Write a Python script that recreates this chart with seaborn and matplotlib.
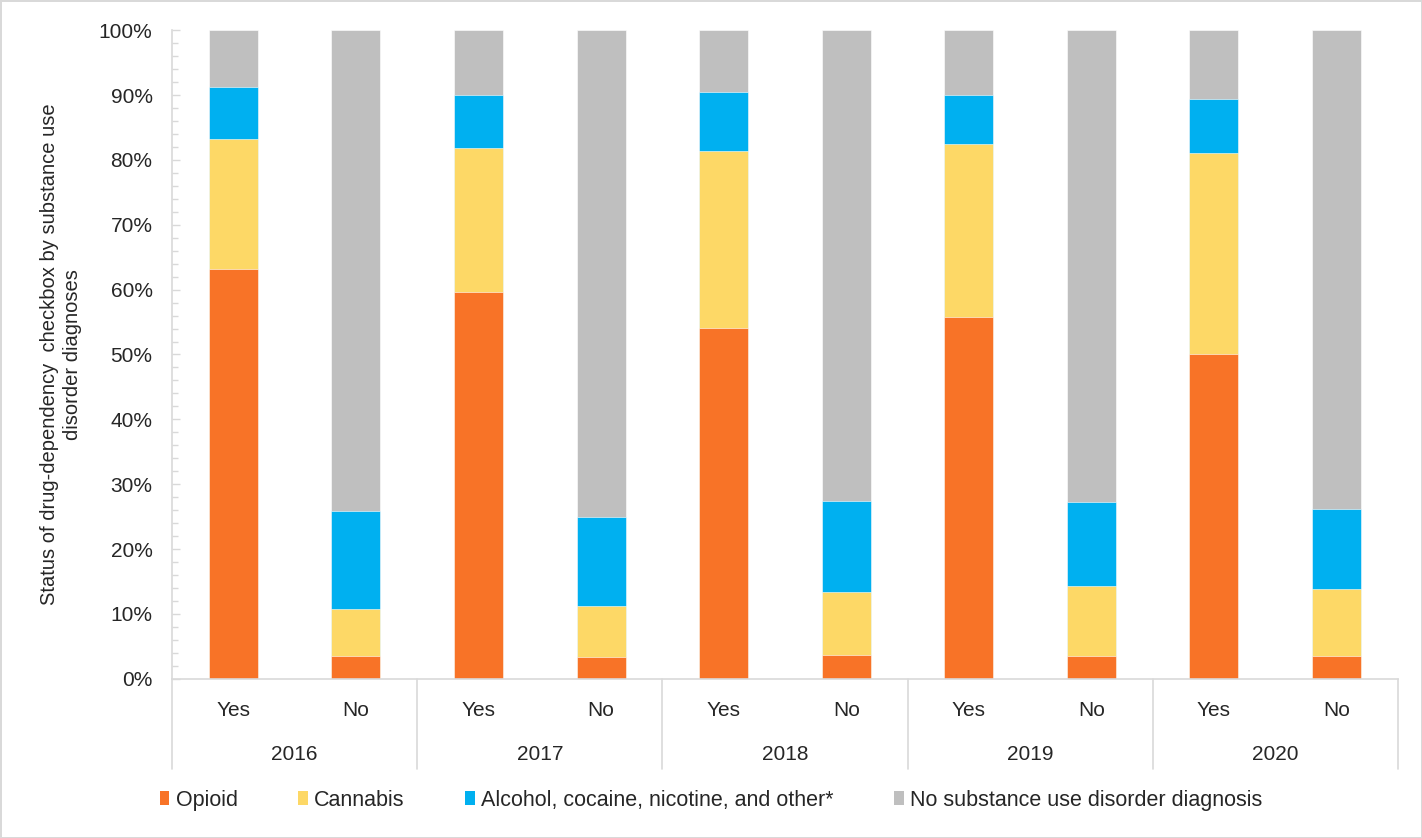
import matplotlib
matplotlib.use("Agg")
import matplotlib.pyplot as plt
import matplotlib.transforms as mtransforms
from matplotlib.patches import Patch
from matplotlib.ticker import MultipleLocator, PercentFormatter
import numpy as np
import pandas as pd
import seaborn as sns

years = ["2016", "2017", "2018", "2019", "2020"]
answers = ["Yes", "No"]

# segment heights (%), per year
opioid_yes = [63.2, 59.7, 54.1, 55.8, 50.1]
cannabis_yes = [20.0, 22.1, 27.2, 26.7, 31.0]
alcohol_yes = [8.0, 8.2, 9.2, 7.5, 8.3]

opioid_no = [3.5, 3.4, 3.7, 3.5, 3.5]
cannabis_no = [7.2, 7.8, 9.7, 10.8, 10.4]
alcohol_no = [15.1, 13.8, 14.0, 13.0, 12.3]

series_names = ["Opioid", "Cannabis", "Alcohol, cocaine, nicotine, and other*",
                "No substance use disorder diagnosis"]
colors = ["#F87327", "#FDD866", "#00B0F0", "#BFBFBF"]

# build the table: one row per bar
rows = []
for i, yr in enumerate(years):
    for ans, op, ca, al in [("Yes", opioid_yes[i], cannabis_yes[i], alcohol_yes[i]),
                            ("No", opioid_no[i], cannabis_no[i], alcohol_no[i])]:
        rows.append({"bar": f"{yr} {ans}", "year": yr, "answer": ans,
                     "Opioid": op, "Cannabis": ca, "Alcohol": al,
                     "None": 100 - op - ca - al})
df = pd.DataFrame(rows)
df["c1"] = df["Opioid"]
df["c2"] = df["c1"] + df["Cannabis"]
df["c3"] = df["c2"] + df["Alcohol"]
df["c4"] = df["c3"] + df["None"]

sns.set_style("white")
plt.rcParams["font.family"] = ["Liberation Sans", "DejaVu Sans"]

fig = plt.figure(figsize=(14.22, 8.38), dpi=100)
ax = fig.add_axes([0.121, 0.190, 0.862, 0.774])

order = list(df["bar"])
# draw stacked bars from the top cumulative down
for col, c in zip(["c4", "c3", "c2", "c1"], colors[::-1]):
    sns.barplot(data=df, x="bar", y=col, order=order, color=c, width=0.4,
                edgecolor="white", linewidth=0.4, saturation=1, ax=ax)

ax.set_xlim(-0.5, 9.5)
ax.set_ylim(0, 100)
ax.yaxis.set_major_locator(MultipleLocator(10))
ax.yaxis.set_minor_locator(MultipleLocator(2))
ax.yaxis.set_major_formatter(PercentFormatter(decimals=0))
ax.tick_params(axis="y", which="major", direction="in", length=6, width=1,
               color="#d9d9d9", labelsize=15, pad=14, left=True)
ax.tick_params(axis="y", which="minor", direction="in", length=4, width=1,
               color="#d9d9d9", left=True)
ax.set_xticks(range(len(order)))
ax.set_xticklabels(list(df["answer"]))
ax.tick_params(axis="x", length=0, labelsize=15, pad=16)

for s in ["top", "right"]:
    ax.spines[s].set_visible(False)
for s in ["left", "bottom"]:
    ax.spines[s].set_color("#d9d9d9")
    ax.spines[s].set_linewidth(1.2)

ax.set_xlabel("")
ax.set_ylabel("Status of drug-dependency  checkbox by substance use\ndisorder diagnoses",
              fontsize=14.5, labelpad=12, linespacing=1.3)

# group separators and year labels
trans = mtransforms.blended_transform_factory(ax.transData, ax.transAxes)
for b in np.arange(-0.5, 10, 2):
    ax.plot([b, b], [0, -0.139], transform=trans, color="#d9d9d9", lw=1.2, clip_on=False)
for i, yr in enumerate(years):
    ax.text(2 * i + 0.5, -0.117, yr, transform=trans, ha="center", va="center", fontsize=15)

handles = [Patch(facecolor=c, edgecolor="none") for c in colors]
fig.legend(handles, series_names, loc="center", bbox_to_anchor=(0.5, 0.045), ncol=4,
           frameon=False, fontsize=15.5, handlelength=0.45, handleheight=0.6,
           handletextpad=0.3, columnspacing=2.8)

fig.patch.set_edgecolor("#d9d9d9")
fig.patch.set_linewidth(2)

plt.savefig("out.png", dpi=100, edgecolor=fig.get_edgecolor())
